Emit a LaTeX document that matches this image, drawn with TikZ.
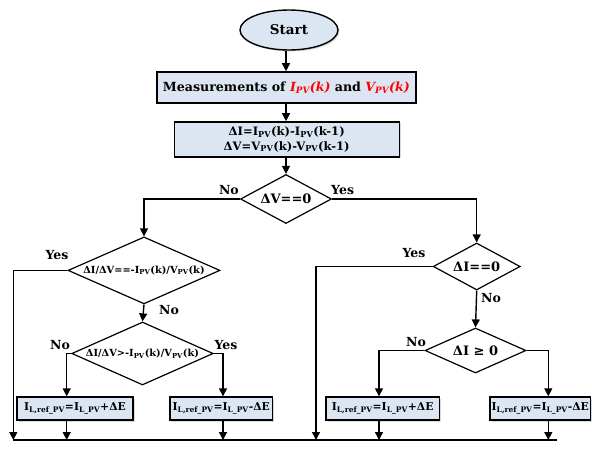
\documentclass[tikz,border=0pt]{standalone}
\usepackage{fontspec}
\setmainfont{DejaVu Serif}
\usetikzlibrary{arrows.meta,shapes.geometric,shadows}
\definecolor{boxblue}{HTML}{DCE6F2}
\newcommand\sbs[1]{\textsubscript{#1}}
\begin{document}
\begin{tikzpicture}[x=1pt,y=-1pt,
  every node/.style={font=\bfseries},
  line/.style={line width=1.4pt},
  arr/.style={line width=1.4pt,-{Triangle[length=8pt,width=8pt]}},
  pbox/.style={draw,line width=1.4pt,fill=boxblue,inner sep=0pt,
    drop shadow={opacity=0.3,shadow xshift=1.5pt,shadow yshift=-1.5pt}},
  dia/.style={draw,line width=1.2pt,fill=white,diamond,inner sep=0pt},
  lbl/.style={font=\bfseries\fontsize{12.5}{14}\selectfont,inner sep=0pt}
]
\useasboundingbox (0,0) rectangle (592,450);
% nodes
\node[pbox,ellipse,minimum width=98,minimum height=40,font=\bfseries\fontsize{13.5}{16}\selectfont] (start) at (289,30) {Start};
\node[pbox,minimum width=259,minimum height=31,font=\bfseries\fontsize{12.6}{15}\selectfont] (meas) at (286.4,87.4)
  {Measurements of \textcolor{red}{\itshape I\sbs{PV}(k)} and \textcolor{red}{\itshape V\sbs{PV}(k)}};
\node[pbox,minimum width=225,minimum height=35,align=center,font=\bfseries\fontsize{11.6}{14.5}\selectfont] (delta) at (286.7,139.4)
  {ΔI=I\sbs{PV}(k)-I\sbs{PV}(k-1)\\ΔV=V\sbs{PV}(k)-V\sbs{PV}(k-1)};
\node[dia,minimum width=91,minimum height=49,label={[font=\bfseries\fontsize{13}{15}\selectfont]center:ΔV==0}] (d1) at (286,199) {};
\node[dia,minimum width=152,minimum height=67,label={[font=\bfseries\fontsize{9.8}{11}\selectfont]center:ΔI/ΔV==-I\sbs{PV}(k)/V\sbs{PV}(k)}] (d2) at (144,270.4) {};
\node[dia,minimum width=141.5,minimum height=63,label={[font=\bfseries\fontsize{9.8}{11}\selectfont]center:ΔI/ΔV>-I\sbs{PV}(k)/V\sbs{PV}(k)}] (d3) at (142.5,353.5) {};
\node[dia,minimum width=87,minimum height=47,label={[font=\bfseries\fontsize{13}{15}\selectfont]center:ΔI==0}] (d4) at (476.7,266.5) {};
\node[dia,minimum width=101,minimum height=45,label={[font=\bfseries\fontsize{13}{15}\selectfont]center:ΔI ≥ 0}] (d5) at (475.5,350.5) {};
\tikzset{ebox/.style={pbox,minimum height=23,font=\bfseries\fontsize{10.8}{12}\selectfont}}
\node[ebox,minimum width=116] (l1) at (75,408.5) {I\sbs{L,ref\_PV}=I\sbs{L\_PV}+ΔE};
\node[ebox,minimum width=102.7] (l2) at (221.3,408.5) {I\sbs{L,ref\_PV}=I\sbs{L\_PV}-ΔE};
\node[ebox,minimum width=113.3] (r1) at (382.7,408.5) {I\sbs{L,ref\_PV}=I\sbs{L\_PV}+ΔE};
\node[ebox,minimum width=100.5] (r2) at (540.3,408.5) {I\sbs{L,ref\_PV}=I\sbs{L\_PV}-ΔE};
% column coordinates
\coordinate (c0) at (286,0);
\coordinate (xb) at (66.7,0);
\coordinate (xc) at (223,0);
\coordinate (xd) at (316,0);
\coordinate (xe) at (379,0);
\coordinate (xf) at (548.3,0);
\coordinate (bl) at (13.3,440);
\coordinate (br) at (557,440);
% connectors
\draw[arr] (c0 |- start.south) -- (c0 |- meas.north);
\draw[arr] (c0 |- meas.south) -- (c0 |- delta.north);
\draw[arr] (c0 |- delta.south) -- (d1.north);
\draw[arr] (d1.west) -| (d2.north);
\draw[arr] (d1.east) -| (d4.north);
\draw[arr] (d2.west) -| (bl);
\draw[arr] (d2.south) -- (d3.north);
\draw[arr] (d3.west) -| (xb |- l1.north);
\draw[arr] (d3.east) -| (xc |- l2.north);
\draw[arr] (d4.west) -| (xd |- bl);
\draw[arr] (d4.south) -- (d5.north);
\draw[arr] (d5.west) -| (xe |- r1.north);
\draw[arr,line width=1pt] (d5.east) -| (xf |- r2.north);
\draw[arr] (xb |- l1.south) -- (xb |- bl);
\draw[arr] (xc |- l2.south) -- (xc |- bl);
\draw[arr] (xe |- r1.south) -- (xe |- bl);
\draw[arr] (xf |- r2.south) -- (xf |- bl);
\draw[line] (bl) -- (br);
% labels
\node[lbl,anchor=south east] (n1) at (239,195) {No};
\node[lbl,anchor=south west] (y1) at (331,195) {Yes};
\node[lbl] (y2) at (57,255) {Yes};
\node[lbl] (n2) at (169,310) {No};
\node[lbl] (n3) at (60,345) {No};
\node[lbl] (y3) at (226,345) {Yes};
\node[lbl] (y4) at (414,253) {Yes};
\node[lbl] (n4) at (491,298) {No};
\node[lbl] (n5) at (416,342) {No};
\end{tikzpicture}
\end{document}
